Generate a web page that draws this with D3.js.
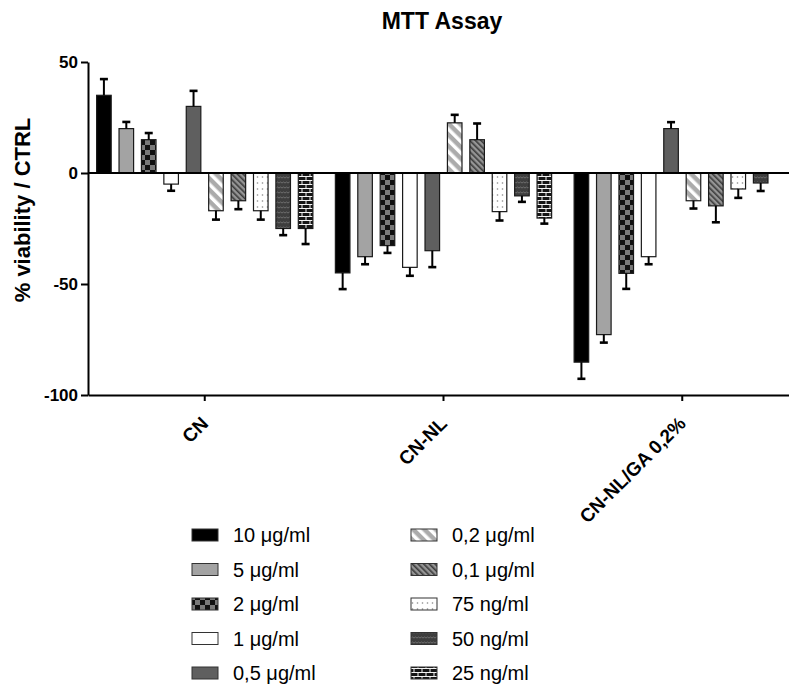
<!DOCTYPE html>
<html>
<head>
<meta charset="utf-8">
<script src="https://cdn.jsdelivr.net/npm/d3@7"></script>
<style>
  body { margin: 0; background: #fff; }
  svg { display: block; font-family: "Liberation Sans", Arial, sans-serif; }
</style>
</head>
<body>
<div id="chart"></div>
<script>
// data
const groups = ['CN', 'CN-NL', 'CN-NL/GA 0,2%'];
const series = ['10 μg/ml', '5 μg/ml', '2 μg/ml', '1 μg/ml', '0,5 μg/ml',
                '0,2 μg/ml', '0,1 μg/ml', '75 ng/ml', '50 ng/ml', '25 ng/ml'];
const meanCN   = [35, 20, 15, -5, 30, -17, -12.5, -17, -25, -25];
const sdCN     = [7.3, 3, 3, 3, 7, 4, 3.8, 4, 3, 7];
const meanCNNL = [-45, -37.7, -32.7, -42.5, -35, 22.6, 15, -17.4, -10.3, -20.3];
const sdCNNL   = [7.3, 3.4, 3.3, 3.8, 7.4, 3.6, 7.3, 4, 2.7, 2.5];
const meanGA   = [-85.2, -72.8, -45.2, -37.7, 20, -12.5, -14.8, -7.2, -4.5, null];
const sdGA     = [7.5, 3.6, 7, 3.4, 2.9, 3.5, 7.4, 4, 3.6, null];
const yTicks = [-100, -50, 0, 50];

const means = [meanCN, meanCNNL, meanGA];
const sds = [sdCN, sdCNNL, sdGA];

const width = 789, height = 686;
const svg = d3.select('#chart').append('svg')
    .attr('width', width)
    .attr('height', height);

// Patterns for the fills
const defs = svg.append('defs');

const checker = defs.append('pattern').attr('id', 'p-checker')
    .attr('patternUnits', 'userSpaceOnUse').attr('width', 10).attr('height', 10);
checker.append('rect').attr('width', 10).attr('height', 10).attr('fill', '#7a7a7a');
checker.append('rect').attr('width', 5).attr('height', 5).attr('fill', '#111');
checker.append('rect').attr('x', 5).attr('y', 5).attr('width', 5).attr('height', 5).attr('fill', '#111');

const wide = defs.append('pattern').attr('id', 'p-wide')
    .attr('patternUnits', 'userSpaceOnUse').attr('width', 8).attr('height', 8)
    .attr('patternTransform', 'rotate(-45)');
wide.append('rect').attr('width', 8).attr('height', 8).attr('fill', '#ababab');
wide.append('rect').attr('width', 3.5).attr('height', 8).attr('fill', '#fff');

const fine = defs.append('pattern').attr('id', 'p-fine')
    .attr('patternUnits', 'userSpaceOnUse').attr('width', 4).attr('height', 4)
    .attr('patternTransform', 'rotate(-45)');
fine.append('rect').attr('width', 4).attr('height', 4).attr('fill', '#959595');
fine.append('rect').attr('width', 1.6).attr('height', 4).attr('fill', '#3c3c3c');

const dots = defs.append('pattern').attr('id', 'p-dots')
    .attr('patternUnits', 'userSpaceOnUse').attr('width', 5).attr('height', 6);
dots.append('rect').attr('width', 5).attr('height', 6).attr('fill', '#fff');
dots.append('circle').attr('cx', 2.5).attr('cy', 3).attr('r', 0.8).attr('fill', '#888');

const scale = defs.append('pattern').attr('id', 'p-scale')
    .attr('patternUnits', 'userSpaceOnUse').attr('width', 6).attr('height', 5);
scale.append('rect').attr('width', 6).attr('height', 5).attr('fill', '#3e3e3e');
scale.append('path').attr('d', 'M0,3 Q1.5,1 3,3 Q4.5,1 6,3')
    .attr('fill', 'none').attr('stroke', '#707070').attr('stroke-width', 0.9);

const brick = defs.append('pattern').attr('id', 'p-brick')
    .attr('patternUnits', 'userSpaceOnUse').attr('width', 8).attr('height', 8);
brick.append('rect').attr('width', 8).attr('height', 8).attr('fill', '#151515');
brick.append('path')
    .attr('d', 'M0,0.5H8M0,4.5H8M2,0.5V4.5M6,4.5V8.5')
    .attr('stroke', '#f4f4f4').attr('stroke-width', 1);

const fills = ['#000', '#a3a3a3', 'url(#p-checker)', '#fff', '#5f5f5f',
               'url(#p-wide)', 'url(#p-fine)', 'url(#p-dots)', 'url(#p-scale)', 'url(#p-brick)'];

// Scales
const x0 = d3.scaleBand().domain(groups).range([88, 799])
    .paddingInner(0.0614).paddingOuter(0.0197);
const x1 = d3.scaleBand().domain(series).range([0, x0.bandwidth()])
    .paddingInner(0.35).paddingOuter(0.175);
const y = d3.scaleLinear().domain([-100, 50]).range([395, 62]);

// Bars
const cells = [];
groups.forEach((g, gi) => {
    series.forEach((s, si) => {
        const v = means[gi][si];
        if (v == null) return;
        cells.push({ group: g, series: s, si, value: v, sd: sds[gi][si] });
    });
});

const barG = svg.append('g');
barG.selectAll('rect').data(cells).join('rect')
    .attr('x', d => x0(d.group) + x1(d.series))
    .attr('y', d => y(Math.max(0, d.value)))
    .attr('width', x1.bandwidth())
    .attr('height', d => Math.abs(y(d.value) - y(0)))
    .attr('fill', d => fills[d.si])
    .attr('stroke', '#1a1a1a')
    .attr('stroke-width', 1.2);

// Error bars (one-sided, away from zero)
const errG = svg.append('g').attr('stroke', '#000');
cells.forEach(d => {
    const cx = x0(d.group) + x1(d.series) + x1.bandwidth() / 2;
    const end = d.value >= 0 ? d.value + d.sd : d.value - d.sd;
    errG.append('line')
        .attr('x1', cx).attr('x2', cx)
        .attr('y1', y(d.value)).attr('y2', y(end))
        .attr('stroke-width', 2);
    errG.append('line')
        .attr('x1', cx - 4).attr('x2', cx + 4)
        .attr('y1', y(end)).attr('y2', y(end))
        .attr('stroke-width', 2.6);
});

// Zero line
svg.append('line')
    .attr('x1', 88).attr('x2', 799)
    .attr('y1', y(0)).attr('y2', y(0))
    .attr('stroke', '#000').attr('stroke-width', 2);

// Axes
const yAxis = svg.append('g')
    .attr('transform', 'translate(88,0)')
    .call(d3.axisLeft(y).tickValues(yTicks).tickSize(7).tickPadding(3)
        .tickSizeOuter(0).tickFormat(d => String(d)));
yAxis.selectAll('line, path').attr('stroke', '#000').attr('stroke-width', 2);
yAxis.selectAll('text')
    .attr('font-size', 17).attr('font-weight', 'bold').attr('fill', '#000')
    .attr('font-family', '"Liberation Sans", Arial, sans-serif');

const xAxis = svg.append('g')
    .attr('transform', 'translate(0,395)')
    .call(d3.axisBottom(x0).tickSize(6).tickSizeOuter(0).tickFormat(''));
xAxis.selectAll('line, path').attr('stroke', '#000').attr('stroke-width', 2);

svg.append('g').selectAll('text').data(groups).join('text')
    .attr('transform', d => `translate(${x0(d) + x0.bandwidth() / 2},420) rotate(-45)`)
    .attr('text-anchor', 'end')
    .attr('dy', '0.35em')
    .attr('font-size', 19)
    .attr('font-weight', 'bold')
    .text(d => d);

// Title and y label
svg.append('text')
    .attr('x', 442).attr('y', 29)
    .attr('text-anchor', 'middle')
    .attr('font-size', 23).attr('font-weight', 'bold')
    .text('MTT Assay');

svg.append('text')
    .attr('transform', 'translate(30,210) rotate(-90)')
    .attr('text-anchor', 'middle')
    .attr('font-size', 22).attr('font-weight', 'bold')
    .text('% viability / CTRL');

// Legend
const legend = svg.append('g');
series.forEach((s, i) => {
    const col = Math.floor(i / 5), row = i % 5;
    const lx = col === 0 ? 192 : 411;
    const ly = 529 + row * 34.5;
    legend.append('rect')
        .attr('x', lx).attr('y', ly)
        .attr('width', 26).attr('height', 12)
        .attr('fill', fills[i])
        .attr('stroke', '#333').attr('stroke-width', 1);
    legend.append('text')
        .attr('x', lx + 41).attr('y', ly + 6)
        .attr('dy', '0.36em')
        .attr('font-size', 20)
        .text(s);
});
</script>
</body>
</html>
